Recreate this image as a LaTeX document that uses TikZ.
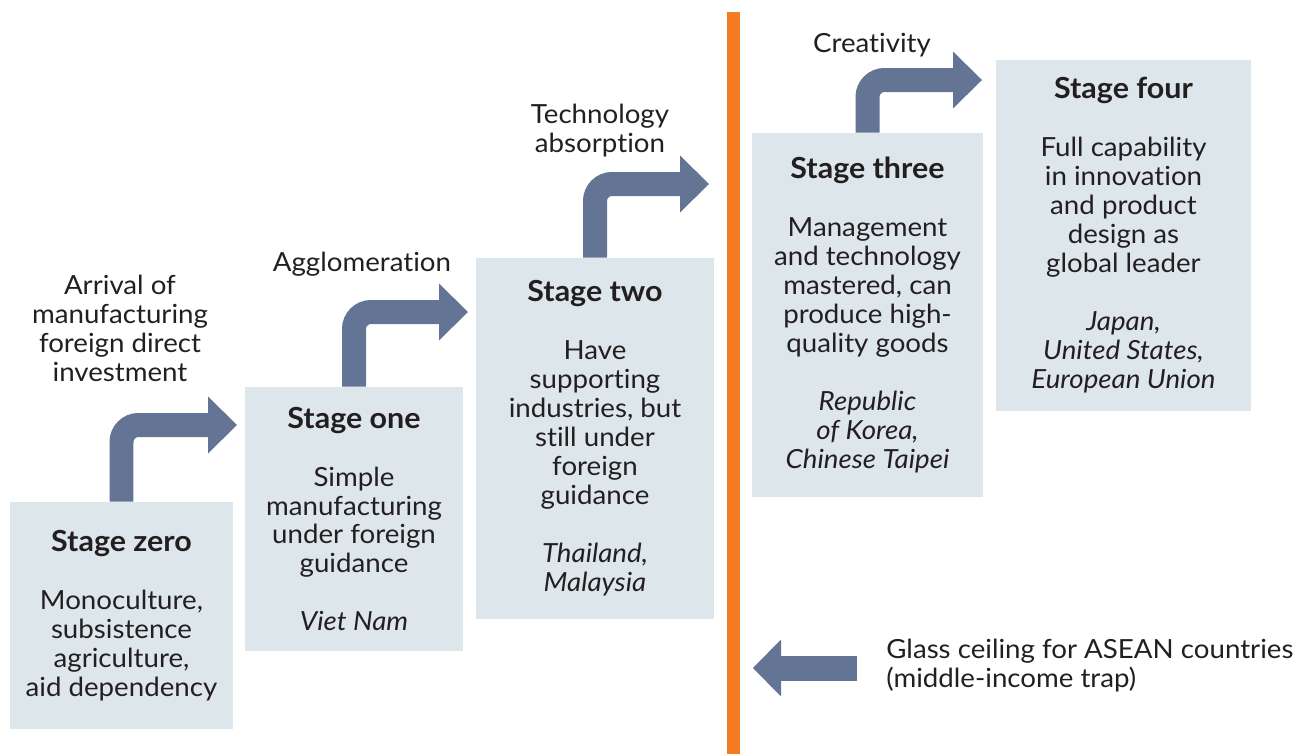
\documentclass[tikz,border=0pt]{standalone}
\usepackage{fontspec}
\setmainfont{Lato}[Ligatures=NoCommon, FakeStretch=1.05]
\usetikzlibrary{arrows.meta,positioning}
\definecolor{boxblue}{RGB}{220,230,235}
\definecolor{arrowgrey}{RGB}{100,116,148}
\definecolor{barorange}{RGB}{244,123,32}
\definecolor{textgrey}{RGB}{35,31,32}
\newcommand{\stagetitle}[1]{{\fontsize{16.5}{16.5}\selectfont\bfseries #1}}

\begin{document}
\begin{tikzpicture}[
    x=0.02cm, y=-0.02cm,
    stagebox/.style={rectangle, fill=boxblue, align=center, inner sep=0pt, text=textgrey, font=\fontsize{15}{16.5}\selectfont},
    steplabel/.style={align=center, inner sep=0pt, text=textgrey, font=\fontsize{15}{16.5}\selectfont},
    bent/.style={arrowgrey, line width=0.48cm, rounded corners=0.34cm, -{Triangle[length=0.58cm, width=1.14cm, line width=0pt]}},
    flat/.style={arrowgrey, line width=0.5cm, -{Triangle[length=0.56cm, width=1.14cm, line width=0pt]}}
]
    \useasboundingbox (0,0) rectangle (1299,754);

    % Stage boxes
    \node[stagebox, minimum width=4.46cm, minimum height=4.54cm] (s0) at (121.5,615.5)
        {\stagetitle{Stage zero}\\[0.58cm] Monoculture,\\subsistence\\agriculture,\\aid dependency};
    \node[stagebox, minimum width=4.36cm, minimum height=5.28cm] (s1) at (354,519)
        {\stagetitle{Stage one}\\[0.58cm] Simple\\manufacturing\\under foreign\\guidance\\[0.58cm] \textit{Viet Nam}};
    \node[stagebox, minimum width=4.76cm, minimum height=7.22cm] (s2) at (595,438.5)
        {\stagetitle{Stage two}\\[0.58cm] Have\\supporting\\industries, but\\still under\\foreign\\guidance\\[0.58cm] \textit{Thailand,}\\\textit{Malaysia}};
    \node[stagebox, minimum width=4.62cm, minimum height=7.28cm] (s3) at (867.5,315)
        {\stagetitle{Stage three}\\[0.58cm] Management\\and technology\\mastered, can\\produce high-\\quality goods\\[0.58cm] \textit{Republic}\\\textit{of Korea,}\\\textit{Chinese Taipei}};
    \node[stagebox, minimum width=5.10cm, minimum height=7.02cm] (s4) at (1123.5,235.5)
        {\stagetitle{Stage four}\\[0.58cm] Full capability\\in innovation\\and product\\design as\\global leader\\[0.58cm] \textit{Japan,}\\\textit{United States,}\\\textit{European Union}};

    % Glass ceiling
    \fill[barorange] (727,12) rectangle (740,754);

    % Step labels
    \node[steplabel] (l1) at (120,328) {Arrival of\\manufacturing\\foreign direct\\investment};
    \node[steplabel] (l2) at (362,264) {Agglomeration};
    \node[steplabel] (l3) at (600,131) {Technology\\absorption};
    \node[steplabel] (l4) at (872,45) {Creativity};
    \node[steplabel, align=left, anchor=west] (glass) at (886,666)
        {Glass ceiling for ASEAN countries\\(middle-income trap)};

    % Bent arrows between stages
    \coordinate (t1) at (237,425);
    \coordinate (t2) at (468,312);
    \coordinate (t3) at (709,184);
    \coordinate (t4) at (982,80);
    \draw[bent] (s0.north) |- (t1);
    \draw[bent] (s1.north) |- (t2);
    \draw[bent] (s2.north) |- (t3);
    \draw[bent] (s3.north) |- (t4);

    % Arrow back to the ceiling
    \coordinate (g0) at (857,668);
    \coordinate (g1) at (753,668);
    \draw[flat] (g0) -- (g1);
\end{tikzpicture}
\end{document}
